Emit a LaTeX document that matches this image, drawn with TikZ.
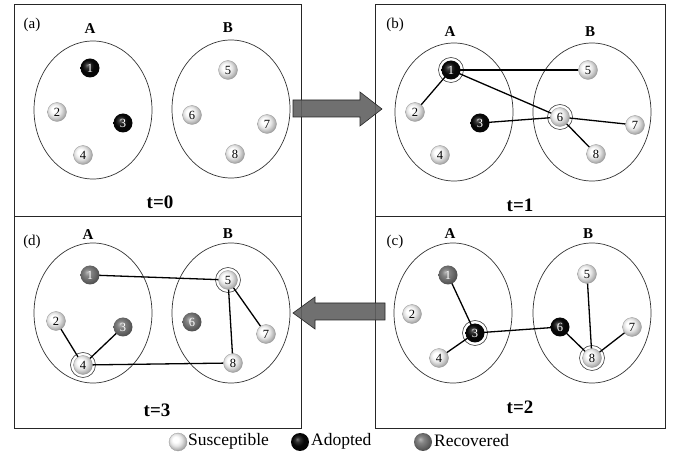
\documentclass[tikz,border=0pt]{standalone}
\usepackage{fontspec}
\setmainfont{Liberation Serif}
\pgfdeclarelayer{bg}
\pgfdeclarelayer{mid}
\pgfsetlayers{bg,mid,main}
\pgfdeclareradialshading{susball}{\pgfpoint{-8bp}{8bp}}{color(0bp)=(white); color(8bp)=(white); color(16bp)=(black!10); color(24bp)=(black!28); color(32bp)=(black!48); color(50bp)=(black!65)}
\pgfdeclareradialshading{adpball}{\pgfpoint{-8bp}{8bp}}{color(0bp)=(black!55); color(7bp)=(black!82); color(16bp)=(black!97); color(50bp)=(black)}
\pgfdeclareradialshading{recball}{\pgfpoint{-8bp}{8bp}}{color(0bp)=(black!28); color(9bp)=(black!48); color(20bp)=(black!60); color(30bp)=(black!72); color(50bp)=(black!85)}
\begin{document}
\begin{tikzpicture}[x=1pt,y=-1pt,
  ball/.style={circle, minimum size=19pt, inner sep=0pt, font=\fontsize{12.5}{12.5}\selectfont},
  sus/.style={ball, shading=susball, text=black, draw=black!40, line width=0.3pt},
  adp/.style={ball, shading=adpball, text=white},
  rec/.style={ball, shading=recball, text=white},
  halo/.style={circle, minimum size=25pt, inner sep=0pt, draw=black!75, line width=0.6pt, fill=white},
  edge/.style={line width=1.3pt, black},
  grp/.style={draw=black!80, line width=0.7pt},
  panel/.style={draw=black!85, line width=0.8pt},
  lbl/.style={font=\fontsize{15}{15}\selectfont\bfseries},
  tag/.style={font=\fontsize{15}{15}\selectfont},
  tim/.style={font=\fontsize{19}{19}\selectfont\bfseries},
  legtxt/.style={anchor=west, inner sep=0pt, font=\fontsize{17.5}{17.5}\selectfont},
  bigarrow/.style={fill=black!62, draw=black!85, line width=0.6pt, fill opacity=0.9}
]
\useasboundingbox (0,0) rectangle (673,457);

\begin{pgfonlayer}{bg}
% panels
\draw[panel] (14,4) rectangle (301,216);
\draw[panel] (375,4) rectangle (665,216);
\draw[panel] (14,216) rectangle (301,428);
\draw[panel] (375,216) rectangle (665,428);
% groups
\draw[grp] (93,110) ellipse [x radius=59, y radius=69];
\draw[grp] (231,109) ellipse [x radius=59, y radius=69];
\draw[grp] (454,112) ellipse [x radius=59, y radius=69];
\draw[grp] (592,112) ellipse [x radius=59, y radius=69];
\draw[grp] (93,313) ellipse [x radius=59, y radius=70];
\draw[grp] (231,313) ellipse [x radius=59, y radius=70];
\draw[grp] (453,313) ellipse [x radius=59, y radius=70];
\draw[grp] (592,313) ellipse [x radius=59, y radius=70];
\end{pgfonlayer}

% labels
\node[tag] (ta) at (32,25) {(a)};
\node[lbl] (la) at (90,29) {A};
\node[lbl] (lb) at (228,28) {B};
\node[tim] (t0) at (160,202) {t=0};

\node[tag] (tb) at (395,25) {(b)};
\node[lbl] (la2) at (450,32) {A};
\node[lbl] (lb2) at (590,32) {B};
\node[tim] (t1) at (520,205) {t=1};

\node[tag] (td) at (32,242) {(d)};
\node[lbl] (la4) at (88,235) {A};
\node[lbl] (lb4) at (228,234) {B};
\node[tim] (t3) at (157,410) {t=3};

\node[tag] (tc) at (395,242) {(c)};
\node[lbl] (la3) at (450,234) {A};
\node[lbl] (lb3) at (588,234) {B};
\node[tim] (t2) at (520,407) {t=2};

% panel (a)
\node[adp] (a1) at (90,68) {1};
\node[sus] (a2) at (57,112) {2};
\node[adp] (a3) at (123,123) {3};
\node[sus] (a4) at (83,155) {4};
\node[sus] (a5) at (228,70) {5};
\node[sus] (a6) at (192,115) {6};
\node[sus] (a7) at (267,124) {7};
\node[sus] (a8) at (235,154) {8};

% panel (b)
\node[adp] (b1) at (451,70) {1};
\node[sus] (b2) at (415,112) {2};
\node[adp] (b3) at (480,123) {3};
\node[sus] (b4) at (440,155) {4};
\node[sus] (b5) at (588,70) {5};
\node[sus] (b6) at (560,117) {6};
\node[sus] (b7) at (635,125) {7};
\node[sus] (b8) at (596,154) {8};

% panel (c)
\node[rec] (c1) at (448,275) {1};
\node[sus] (c2) at (412,314) {2};
\node[adp] (c3) at (475,333) {3};
\node[sus] (c4) at (439,358) {4};
\node[sus] (c5) at (587,274) {5};
\node[adp] (c6) at (560,327) {6};
\node[sus] (c7) at (632,327) {7};
\node[sus] (c8) at (592,358) {8};

% panel (d)
\node[rec] (d1) at (90,275) {1};
\node[sus] (d2) at (56,321) {2};
\node[rec] (d3) at (123,327) {3};
\node[sus] (d4) at (83,365) {4};
\node[sus] (d5) at (228,280) {5};
\node[rec] (d6) at (192,322) {6};
\node[sus] (d7) at (266,334) {7};
\node[sus] (d8) at (233,363) {8};

\begin{pgfonlayer}{mid}
\node[halo] (hb1) at (b1) {};
\node[halo] (hb6) at (b6) {};
\node[halo] (hc3) at (c3) {};
\node[halo] (hc8) at (c8) {};
\node[halo] (hd4) at (d4) {};
\node[halo] (hd5) at (d5) {};
\draw[edge] (b1.center) -- (b5.center);
\draw[edge] (b1.center) -- (b2.center);
\draw[edge] (b1.center) -- (b6.center);
\draw[edge] (b3.center) -- (b6.center);
\draw[edge] (b6.center) -- (b7.center);
\draw[edge] (b6.center) -- (b8.center);
\draw[edge] (c1.center) -- (c3.center);
\draw[edge] (c3.center) -- (c4.center);
\draw[edge] (c3.center) -- (c6.center);
\draw[edge] (c6.center) -- (c8.center);
\draw[edge] (c5.center) -- (c8.center);
\draw[edge] (c7.center) -- (c8.center);
\draw[edge] (d1.center) -- (d5.center);
\draw[edge] (d5.center) -- (d7.center);
\draw[edge] (d5.center) -- (d8.center);
\draw[edge] (d2.center) -- (d4.center);
\draw[edge] (d3.center) -- (d4.center);
\draw[edge] (d4.center) -- (d8.center);
\end{pgfonlayer}

% big arrows between panels
\draw[bigarrow] (293,100) -- (360,100) -- (360,92) -- (382,109) -- (360,126) -- (360,117) -- (293,117) -- cycle;
\draw[bigarrow] (385,303) -- (315,303) -- (315,297) -- (293,313) -- (315,329) -- (315,320) -- (385,320) -- cycle;

% legend
\node[sus, minimum size=18pt] (ls) at (178,442) {};
\node[legtxt] (lst) at (188,441) {Susceptible};
\node[adp, minimum size=18pt] (la0) at (300,442) {};
\node[legtxt] (lat) at (311,441) {Adopted};
\node[rec, minimum size=18pt] (lr) at (423,442) {};
\node[legtxt] (lrt) at (434,441) {Recovered};
\end{tikzpicture}
\end{document}
